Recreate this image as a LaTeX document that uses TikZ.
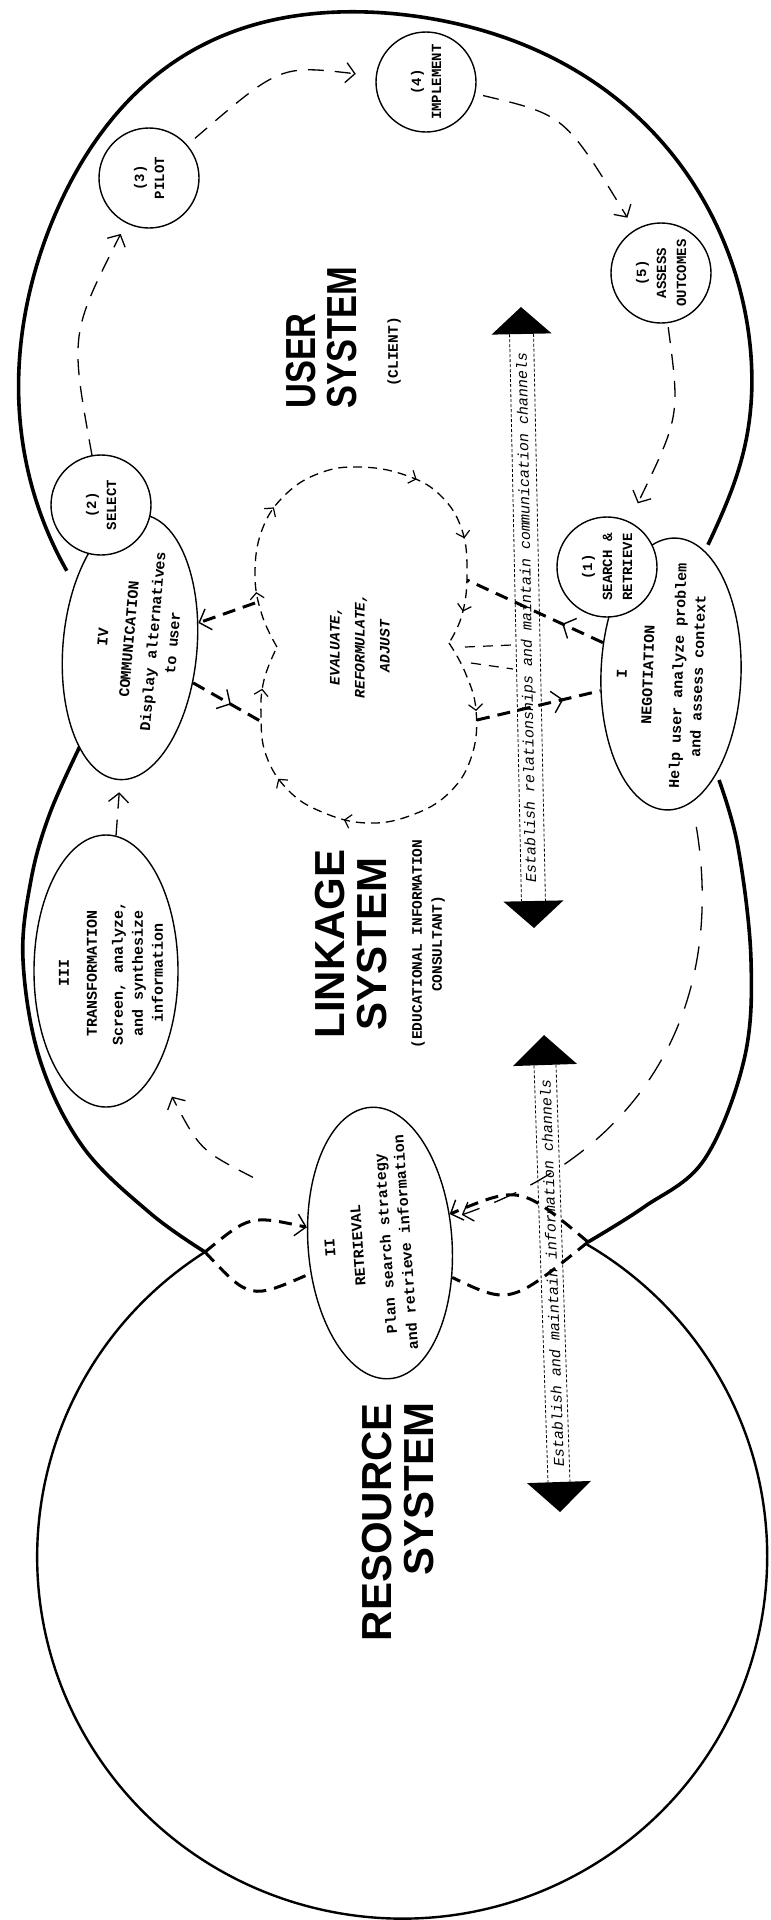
\documentclass[tikz,border=0pt]{standalone}
\usepackage{fontspec}
\setmainfont{Liberation Sans}
\newfontfamily\typefont{Liberation Mono}
\newfontfamily\narrowsans[FakeStretch=0.82]{Liberation Sans}
\usetikzlibrary{arrows.meta,calc,shapes.geometric,decorations.markings}

\tikzset{
    linktip/.tip={Straight Barb[length=10pt,width=22pt,line width=1.4pt]},
    cloudtip/.tip={Straight Barb[length=6pt,width=14pt,line width=1.2pt]}
}

\begin{document}
\begin{tikzpicture}[
    x=1pt, y=-1pt,
    declare function={userr(\t)=366+24*exp(-min(((\t-120)/30)^2,20))+6*exp(-min(((\t-50)/40)^2,20))-8*exp(-min(((\t+25)/15)^2,20));},
    >={Straight Barb[length=9pt,width=20pt,line width=1.3pt]},
    system/.style={line width=3.6pt},
    resource/.style={line width=2.4pt},
    stage/.style={draw, ellipse, line width=1.4pt, fill=white, inner sep=0pt},
    stagetext/.style={align=center, inner sep=0pt, font=\typefont\bfseries\fontsize{15}{20}\selectfont},
    phase/.style={draw, circle, line width=1.4pt, fill=white, minimum size=100pt, inner sep=0pt,
        rotate=90, align=center, font=\typefont\bfseries\fontsize{14}{20}\selectfont},
    flow/.style={->, line width=1.3pt, dash pattern=on 16pt off 11pt},
    longflow/.style={->, line width=1.3pt, dash pattern=on 24pt off 16pt},
    loopline/.style={line width=1.3pt, dash pattern=on 9pt off 6pt},
    link/.style={line width=3pt, dash pattern=on 13pt off 8pt},
    thinlink/.style={line width=1.2pt, dash pattern=on 10pt off 8pt},
    shaft/.style={line width=0.8pt, dash pattern=on 3pt off 2pt},
    chantext/.style={inner sep=0pt, font=\typefont\itshape\fontsize{15}{18}\selectfont},
    systitle/.style={rotate=90, inner sep=0pt, font=\bfseries\fontsize{42}{42}\selectfont},
    sublabel/.style={rotate=90, align=center, inner sep=0pt, font=\typefont\bfseries\fontsize{14.5}{20}\selectfont}
    ]

    \useasboundingbox (0,0) rectangle (771,1920);
    \fill[white] (0,0) rectangle (771,1920);

    % outlines of the three systems
    \draw[system] plot[smooth, samples=120, domain=-25.6:209.6, variable=\t]
        ({385+userr(\t)*cos(\t)}, {390-userr(\t)*sin(\t)});
    \draw[system] plot[smooth, tension=0.6] coordinates {(82,742) (50,813) (31,880) (23,960) (40,1060) (83,1147) (150,1213) (205,1252)};
    \draw[system] plot[smooth, tension=0.6] coordinates {(719,780) (738,847) (751,960) (744,1060) (704,1160) (644,1207) (588,1242)};

    \coordinate (lens west) at (205,1252);
    \coordinate (lens east) at (588,1242);
    \draw[resource] (lens west) arc[start angle=122.7, end angle=419.6, x radius=365pt, y radius=362pt];

    % stages of the linkage system
    \node[stage, rotate=85, minimum width=266pt, minimum height=134pt] (communication) at (130,647) {};
    \node[stage, rotate=90, minimum width=272pt, minimum height=144pt] (transformation) at (106,971) {};
    \node[stage, rotate=94, minimum width=272pt, minimum height=144pt] (retrieval) at (380,1243) {};
    \node[stage, rotate=88, minimum width=272pt, minimum height=140pt] (negotiation) at (671,674) {};

    \node[stagetext, rotate=85] (communication text) at (138,640) {IV\\[6pt]COMMUNICATION\\[4pt]Display alternatives\\to user};
    \node[stagetext, rotate=90] (transformation text) at (111,973) {III\\[8pt]TRANSFORMATION\\[6pt]Screen, analyze,\\and synthesize\\information};
    \node[stagetext, rotate=94] (retrieval text) at (368,1245) {II\\[8pt]RETRIEVAL\\[8pt]Plan search strategy\\and retrieve information};
    \node[stagetext, rotate=88] (negotiation text) at (660,675) {I\\[6pt]NEGOTIATION\\[10pt]Help user analyze problem\\and assess context};

    % stages of the user system
    \node[phase] (select) at (101,505) {(2)\\SELECT};
    \node[phase] (pilot) at (149,178) {(3)\\PILOT};
    \node[phase] (implement) at (426,82) {(4)\\IMPLEMENT};
    \node[phase] (assess) at (661,273) {(5)\\ASSESS\\OUTCOMES};
    \node[phase] (search) at (607,567) {(1)\\SEARCH \&\\RETRIEVE};

    \draw[flow, shorten >=12pt] (select) .. controls (70,334) .. (pilot);
    \draw[flow, shorten <=10pt, shorten >=20pt] (pilot) .. controls (280,65) .. (implement);
    \draw[flow, shorten <=8pt, shorten >=14pt] (implement) .. controls (565,115) .. (assess);
    \draw[flow, shorten <=4pt, shorten >=20pt] (assess) .. controls (680,416) .. (search);
    \draw[longflow, shorten <=25pt, shorten >=12pt] (negotiation) .. controls (725,1000) and (650,1150) .. (retrieval);
    \draw[flow, shorten <=62pt, shorten >=32pt] (retrieval) .. controls (200,1150) .. (transformation);
    \draw[flow, shorten >=12pt] (transformation) -- (communication);

    % the overlap of linkage and resource system
    \draw[link, -linktip] (lens west) .. controls (250,1215) .. (retrieval);
    \draw[link, -linktip] (lens east) .. controls (520,1185) .. (retrieval);
    \draw[link] (lens west) .. controls (250,1300) .. (retrieval);
    \draw[link] (lens east) .. controls (510,1305) .. (retrieval);

    % evaluate, reformulate, adjust
    \draw[loopline, decoration={markings,
            mark=at position 0.12 with {\arrow{cloudtip}},
            mark=at position 0.30 with {\arrow{cloudtip}},
            mark=at position 0.62 with {\arrow{cloudtip}},
            mark=at position 0.78 with {\arrow{cloudtip}},
            mark=at position 0.93 with {\arrow{cloudtip}}}, postaction=decorate]
        plot[smooth, tension=0.7] coordinates {(277,647) (262,615) (255,575) (262,530) (285,495) (320,473) (360,467) (405,475) (440,495) (462,530) (467,575) (462,615) (449,643)};
    \draw[loopline, decoration={markings,
            mark=at position 0.15 with {\arrow{cloudtip}},
            mark=at position 0.56 with {\arrow{cloudtip}},
            mark=at position 0.72 with {\arrow{cloudtip}},
            mark=at position 0.91 with {\arrow{cloudtip}}}, postaction=decorate]
        plot[smooth, tension=0.7] coordinates {(449,643) (465,672) (476,710) (472,755) (450,792) (412,815) (367,823) (322,812) (288,790) (266,755) (261,715) (264,680) (277,647)};
    \node[sublabel, font=\typefont\bfseries\itshape\fontsize{14.5}{25}\selectfont] (cloud label) at (360,646) {EVALUATE,\\REFORMULATE,\\ADJUST};

    \coordinate (cloud nw) at (255,603);
    \coordinate (cloud sw) at (262,722);
    \coordinate (cloud ne) at (467,580);
    \coordinate (cloud se) at (477,720);
    \coordinate (cloud e) at (465,647);

    \draw[link, -linktip] (cloud nw) -- (communication);
    \draw[link, decoration={markings, mark=at position 0.55 with {\arrow{linktip}}}, postaction=decorate] (communication) -- (cloud sw);
    \draw[link, decoration={markings, mark=at position 0.3 with {\arrow{linktip}}}, postaction=decorate] (negotiation) -- (cloud ne);
    \draw[link, decoration={markings, mark=at position 0.7 with {\arrow{linktip}}}, postaction=decorate] (cloud se) -- (negotiation);
    \draw[thinlink] (cloud e) -- ++(47,-2);
    \draw[thinlink] ($(cloud e)+(6,16)$) -- ++(42,6);

    % channels
    \coordinate (ch1 top) at (521,307);
    \coordinate (ch1 bot) at (534,928);
    \path ($(ch1 top)!27pt!(ch1 bot)$) coordinate (ch1 tb)
          ($(ch1 bot)!27pt!(ch1 top)$) coordinate (ch1 bb);
    \fill (ch1 top) -- ($(ch1 tb)!30pt!90:(ch1 bot)$) -- ($(ch1 tb)!30pt!-90:(ch1 bot)$) -- cycle;
    \fill (ch1 bot) -- ($(ch1 bb)!30pt!90:(ch1 top)$) -- ($(ch1 bb)!30pt!-90:(ch1 top)$) -- cycle;
    \draw[shaft] ($(ch1 tb)!12pt!90:(ch1 bot)$) -- ($(ch1 bb)!12pt!-90:(ch1 top)$);
    \draw[shaft] ($(ch1 tb)!12pt!-90:(ch1 bot)$) -- ($(ch1 bb)!12pt!90:(ch1 top)$);
    \node[chantext, rotate=91] (relation text) at ($(ch1 top)!0.5!(ch1 bot)$) {Establish relationships and maintain communication channels};

    \coordinate (ch2 top) at (544,1035);
    \coordinate (ch2 bot) at (560,1512);
    \path ($(ch2 top)!30pt!(ch2 bot)$) coordinate (ch2 tb)
          ($(ch2 bot)!30pt!(ch2 top)$) coordinate (ch2 bb);
    \fill (ch2 top) -- ($(ch2 tb)!32pt!90:(ch2 bot)$) -- ($(ch2 tb)!32pt!-90:(ch2 bot)$) -- cycle;
    \fill (ch2 bot) -- ($(ch2 bb)!32pt!90:(ch2 top)$) -- ($(ch2 bb)!32pt!-90:(ch2 top)$) -- cycle;
    \draw[shaft] ($(ch2 tb)!11pt!90:(ch2 bot)$) -- ($(ch2 bb)!11pt!-90:(ch2 top)$);
    \draw[shaft] ($(ch2 tb)!11pt!-90:(ch2 bot)$) -- ($(ch2 bb)!11pt!90:(ch2 top)$);
    \node[chantext, rotate=92] (info text) at ($(ch2 top)!0.5!(ch2 bot)$) {Establish and maintain information channels};

    % system names
    \node[systitle, font=\narrowsans\bfseries\fontsize{42}{41}\selectfont, align=left] (user title) at (322,338) {USER\\SYSTEM};
    \node[sublabel] (client label) at (394,352) {(CLIENT)};
    \node[systitle, align=center] (linkage title) at (351,944) {LINKAGE\\SYSTEM};
    \node[sublabel] (consultant label) at (428,944) {(EDUCATIONAL INFORMATION\\CONSULTANT)};
    \node[systitle, align=right] (resource title) at (398,1522) {RESOURCE\\SYSTEM};

\end{tikzpicture}
\end{document}
